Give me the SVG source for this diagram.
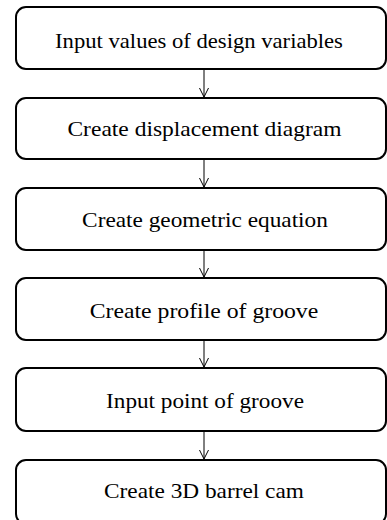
<svg xmlns="http://www.w3.org/2000/svg" width="387" height="520" viewBox="0 0 387 520">
<style>
.box{fill:#fff;stroke:#000;stroke-width:2}
.lbl{font-size:21px;fill:#000;text-anchor:middle}
.conn{stroke:#000;stroke-width:1;fill:none}
</style>
<defs>
<marker id="arr" markerWidth="12" markerHeight="10" refX="10" refY="5" orient="auto" markerUnits="userSpaceOnUse">
<path d="M1,0.5 L10,5 L1,9.5" fill="none" stroke="#000" stroke-width="1"/>
</marker>
</defs>
<rect width="387" height="520" fill="#fff"/>
<g id="connectors">
<line class="conn" x1="204" y1="70" x2="204" y2="97" marker-end="url(#arr)"/>
<line class="conn" x1="204" y1="160" x2="204" y2="187" marker-end="url(#arr)"/>
<line class="conn" x1="204" y1="251" x2="204" y2="277" marker-end="url(#arr)"/>
<line class="conn" x1="204" y1="341" x2="204" y2="367" marker-end="url(#arr)"/>
<line class="conn" x1="204" y1="432" x2="204" y2="459" marker-end="url(#arr)"/>
</g>
<g id="n1"><rect class="box" x="16" y="7" width="370" height="62" rx="10"/><text class="lbl" style="font-family:'Liberation Serif'" transform="translate(199,48) scale(1.078,1)">Input values of design variables</text></g>
<g id="n2"><rect class="box" x="16" y="98" width="370" height="61" rx="10"/><text class="lbl" style="font-family:'Liberation Serif'" transform="translate(204.5,136) scale(1.12,1)">Create displacement diagram</text></g>
<g id="n3"><rect class="box" x="16" y="188" width="370" height="62" rx="10"/><text class="lbl" style="font-family:'Liberation Serif'" transform="translate(205,227) scale(1.11,1)">Create geometric equation</text></g>
<g id="n4"><rect class="box" x="16" y="278" width="370" height="62" rx="10"/><text class="lbl" style="font-family:'Liberation Serif'" transform="translate(204,318) scale(1.13,1)">Create profile of groove</text></g>
<g id="n5"><rect class="box" x="16" y="368" width="370" height="63" rx="10"/><text class="lbl" style="font-family:'Liberation Serif'" transform="translate(205,408) scale(1.106,1)">Input point of groove</text></g>
<g id="n6"><rect class="box" x="16" y="460" width="370" height="64" rx="10"/><text class="lbl" style="font-family:'Liberation Serif'" transform="translate(204,498) scale(1.11,1)">Create 3D barrel cam</text></g>
</svg>
